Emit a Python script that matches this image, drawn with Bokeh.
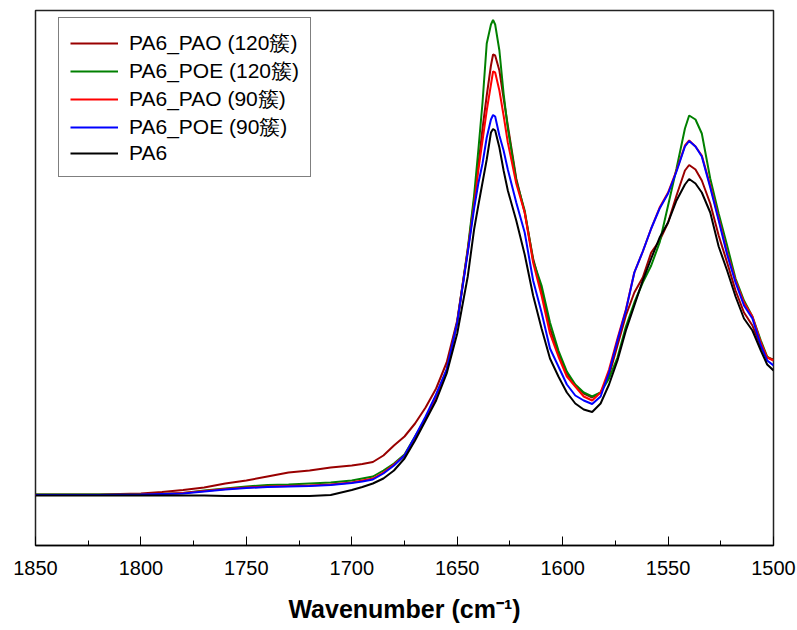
from bokeh.plotting import figure
from bokeh.models import Range1d, FixedTicker, Legend, LegendItem
from bokeh.embed import file_html
from bokeh.resources import INLINE

# ---- data (absorbance, arbitrary units) ----
wavenumber = [1850, 1820, 1800, 1790, 1780, 1770, 1760, 1750, 1740, 1730,
              1720, 1710, 1700, 1695, 1690, 1685, 1680, 1675, 1670, 1665,
              1660, 1655, 1650, 1645, 1642, 1640, 1638, 1636, 1634, 1633,
              1632, 1630, 1628, 1626, 1622, 1618, 1614, 1610, 1606, 1602,
              1598, 1594, 1590, 1586, 1582, 1578, 1574, 1570, 1566, 1562,
              1558, 1554, 1550, 1546, 1542, 1540, 1537, 1534, 1530, 1526,
              1522, 1518, 1514, 1510, 1506, 1503, 1500]

pa6_pao_120 = [0.051, 0.051, 0.052, 0.0535, 0.0555, 0.058, 0.062, 0.065, 0.069, 0.073,
               0.075, 0.078, 0.080, 0.0815, 0.0835, 0.090, 0.100, 0.109, 0.122, 0.138,
               0.157, 0.183, 0.225, 0.295, 0.345, 0.380, 0.417, 0.450, 0.480, 0.491,
               0.490, 0.475, 0.447, 0.420, 0.367, 0.333, 0.287, 0.255, 0.217, 0.192,
               0.172, 0.160, 0.152, 0.148, 0.153, 0.170, 0.200, 0.230, 0.253, 0.268,
               0.293, 0.305, 0.323, 0.350, 0.375, 0.3805, 0.376, 0.365, 0.342, 0.310,
               0.283, 0.255, 0.233, 0.220, 0.199, 0.188, 0.186]

pa6_poe_120 = [0.051, 0.051, 0.051, 0.0515, 0.0525, 0.055, 0.057, 0.059, 0.0605, 0.061,
               0.062, 0.063, 0.065, 0.067, 0.069, 0.075, 0.082, 0.091, 0.109, 0.127,
               0.150, 0.175, 0.223, 0.297, 0.350, 0.395, 0.443, 0.502, 0.521, 0.5255,
               0.521, 0.495, 0.452, 0.417, 0.365, 0.335, 0.285, 0.260, 0.223, 0.195,
               0.174, 0.161, 0.153, 0.149, 0.153, 0.167, 0.188, 0.219, 0.243, 0.263,
               0.280, 0.303, 0.340, 0.377, 0.417, 0.430, 0.426, 0.412, 0.367, 0.332,
               0.300, 0.267, 0.245, 0.229, 0.205, 0.189, 0.185]

pa6_pao_90 = [0.0505, 0.0505, 0.051, 0.0515, 0.0525, 0.0545, 0.0565, 0.058, 0.059, 0.0595,
              0.060, 0.061, 0.063, 0.065, 0.067, 0.073, 0.081, 0.090, 0.108, 0.127,
              0.149, 0.175, 0.223, 0.295, 0.340, 0.375, 0.405, 0.435, 0.461, 0.474,
              0.473, 0.455, 0.430, 0.403, 0.362, 0.333, 0.283, 0.250, 0.212, 0.189,
              0.169, 0.159, 0.149, 0.145, 0.153, 0.176, 0.207, 0.236, 0.273, 0.294,
              0.317, 0.338, 0.353, 0.375, 0.400, 0.405, 0.399, 0.390, 0.360, 0.327,
              0.293, 0.265, 0.243, 0.229, 0.203, 0.188, 0.185]

pa6_poe_90 = [0.0505, 0.0505, 0.051, 0.0515, 0.052, 0.054, 0.056, 0.0575, 0.0585, 0.059,
              0.0595, 0.0605, 0.0625, 0.064, 0.066, 0.072, 0.080, 0.090, 0.109, 0.129,
              0.151, 0.176, 0.223, 0.293, 0.337, 0.362, 0.382, 0.408, 0.426, 0.4305,
              0.429, 0.410, 0.395, 0.376, 0.343, 0.313, 0.265, 0.233, 0.197, 0.179,
              0.161, 0.150, 0.145, 0.1415, 0.149, 0.173, 0.205, 0.235, 0.273, 0.294,
              0.317, 0.337, 0.352, 0.374, 0.399, 0.4045, 0.399, 0.389, 0.358, 0.325,
              0.291, 0.263, 0.240, 0.227, 0.200, 0.185, 0.180]

pa6 = [0.050, 0.050, 0.050, 0.050, 0.050, 0.050, 0.0495, 0.0495, 0.0495, 0.0495,
       0.0495, 0.0505, 0.0555, 0.0585, 0.062, 0.067, 0.075, 0.087, 0.105, 0.125,
       0.145, 0.172, 0.212, 0.269, 0.316, 0.340, 0.363, 0.386, 0.413, 0.4165,
       0.415, 0.398, 0.375, 0.355, 0.325, 0.291, 0.250, 0.217, 0.187, 0.169,
       0.153, 0.142, 0.136, 0.1335, 0.142, 0.161, 0.185, 0.215, 0.240, 0.265,
       0.287, 0.308, 0.323, 0.345, 0.361, 0.3665, 0.362, 0.353, 0.333, 0.299,
       0.275, 0.249, 0.227, 0.215, 0.195, 0.181, 0.175]

series_labels = ["PA6_PAO (120簇)", "PA6_POE (120簇)", "PA6_PAO (90簇)",
                 "PA6_POE (90簇)", "PA6"]
series_colors = ["#990000", "#008000", "#ff0000", "#0000ff", "#000000"]
x_ticks = [1850, 1800, 1750, 1700, 1650, 1600, 1550, 1500]
x_title = "Wavenumber (cm\u207b\u00b9)"

FONT = "Liberation Sans"

p = figure(width=797, height=630,
           x_range=Range1d(1850, 1500), y_range=Range1d(0, 0.535),
           output_backend="svg", toolbar_location=None,
           min_border_left=35, min_border_right=24,
           min_border_top=10, min_border_bottom=85)
p.background_fill_color = "white"
p.border_fill_color = "white"
p.outline_line_color = "#222222"
p.outline_line_width = 1.5
p.grid.visible = False
p.yaxis.visible = False

ax = p.xaxis[0]
minor = [(a + b) / 2 for a, b in zip(x_ticks[:-1], x_ticks[1:])]
ax.ticker = FixedTicker(ticks=x_ticks, minor_ticks=minor)
ax.axis_line_color = "black"
ax.axis_line_width = 1.5
ax.major_tick_in = 9
ax.major_tick_out = 0
ax.minor_tick_in = 5
ax.minor_tick_out = 0
ax.major_tick_line_color = "black"
ax.minor_tick_line_color = "black"
ax.major_tick_line_width = 1
ax.minor_tick_line_width = 1
ax.major_label_text_font = FONT
ax.major_label_text_font_size = "20px"
ax.major_label_text_color = "black"
ax.major_label_standoff = 15
ax.axis_label = x_title
ax.axis_label_text_font = FONT
ax.axis_label_text_font_size = "25px"
ax.axis_label_text_font_style = "bold"
ax.axis_label_text_color = "black"
ax.axis_label_standoff = 17

series = [pa6_pao_120, pa6_poe_120, pa6_pao_90, pa6_poe_90, pa6]
items = []
for ys, lab, col in zip(series, series_labels, series_colors):
    r = p.line(wavenumber, ys, line_color=col, line_width=2)
    items.append(LegendItem(label=lab, renderers=[r]))

legend = Legend(items=items, location=(23, 368))
legend.label_text_font = FONT
legend.label_text_font_size = "21px"
legend.label_text_color = "black"
legend.glyph_width = 48
legend.glyph_height = 20
legend.label_height = 20
legend.label_standoff = 11
legend.spacing = 0
legend.padding = 11
legend.margin = 0
legend.border_line_color = "black"
legend.border_line_width = 1
legend.background_fill_color = "white"
legend.background_fill_alpha = 1
p.add_layout(legend)

open("out.html", "w").write(file_html(p, INLINE))
